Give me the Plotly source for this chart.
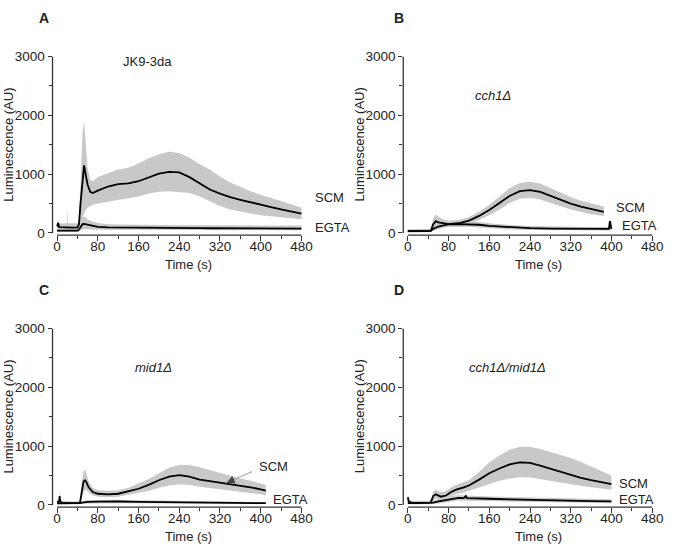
import plotly.graph_objects as go

W, H = 676, 551

# ---------------- data ----------------
# Panel A: JK9-3da
A_t = [0, 2, 4, 10, 19, 20, 21, 30, 40, 43, 46, 50, 53, 56, 60, 65, 70, 80, 100, 120,
       140, 160, 180, 200, 220, 240, 260, 280, 300, 320, 340, 360, 380, 400, 420, 440, 460, 480]
A_scm = [110, 170, 100, 95, 90, 95, 90, 90, 95, 150, 500, 900, 1150, 1000, 820, 700, 680, 720, 790, 830,
         845, 880, 950, 1010, 1040, 1030, 950, 850, 740, 670, 610, 565, 520, 480, 440, 400, 365, 330]
A_scm_hi = [180, 220, 170, 160, 165, 430, 165, 160, 165, 220, 900, 1700, 1900, 1500, 1100, 900, 880, 950, 1020, 1080,
            1110, 1180, 1270, 1340, 1380, 1360, 1280, 1170, 1080, 960, 860, 780, 710, 650, 600, 550, 490, 430]
A_scm_lo = [40, 50, 40, 40, 40, 40, 40, 40, 45, 60, 150, 250, 330, 390, 430, 460, 480, 500, 530, 560,
            580, 620, 670, 700, 710, 700, 680, 620, 540, 460, 400, 360, 330, 300, 280, 265, 250, 235]
A_egta = [40, 40, 40, 40, 40, 40, 40, 40, 40, 60, 110, 150, 155, 150, 135, 125, 115, 105, 95, 92,
          90, 88, 86, 85, 84, 83, 82, 81, 80, 80, 79, 79, 78, 78, 77, 76, 75, 75]
A_egta_hi = [90, 90, 90, 90, 90, 90, 90, 90, 90, 120, 220, 280, 280, 270, 230, 210, 190, 170, 150, 145,
             140, 138, 136, 135, 134, 133, 132, 131, 130, 129, 128, 128, 127, 127, 126, 126, 125, 125]
A_egta_lo = [15, 15, 15, 15, 15, 15, 15, 15, 15, 20, 40, 60, 62, 62, 60, 58, 57, 55, 55, 54,
             53, 52, 51, 50, 50, 49, 48, 48, 47, 47, 46, 46, 46, 45, 45, 45, 45, 45]

# Panel B: cch1Δ
B_t_scm = [0, 20, 40, 45, 50, 55, 60, 70, 80, 100, 120, 140, 160, 180, 200, 220, 240, 260, 280, 300, 320, 340, 360, 385]
B_scm = [30, 30, 30, 35, 150, 200, 180, 160, 150, 165, 210, 290, 390, 510, 630, 710, 730, 700, 630, 560, 500, 450, 405, 360]
B_scm_hi = [60, 60, 60, 70, 250, 310, 280, 230, 210, 220, 270, 360, 480, 620, 760, 850, 870, 840, 760, 680, 610, 550, 500, 450]
B_scm_lo = [10, 10, 10, 15, 90, 120, 110, 100, 100, 110, 150, 220, 300, 400, 510, 580, 600, 570, 510, 450, 400, 360, 320, 290]
B_t_egta = [0, 20, 40, 45, 50, 60, 70, 80, 100, 120, 140, 160, 200, 240, 280, 320, 360, 395, 397, 399, 400]
B_egta = [30, 30, 30, 35, 70, 110, 130, 145, 150, 150, 140, 120, 95, 82, 75, 72, 70, 70, 200, 70, 70]
B_egta_hi = [60, 60, 60, 65, 110, 160, 180, 190, 195, 195, 185, 165, 135, 120, 110, 105, 102, 100, 200, 100, 100]
B_egta_lo = [10, 10, 10, 15, 40, 70, 90, 100, 105, 105, 95, 80, 60, 50, 45, 42, 40, 40, 40, 40, 40]

# Panel C: mid1Δ
C_t_scm = [0, 4, 5, 6, 10, 20, 30, 40, 45, 48, 52, 55, 58, 62, 70, 80, 100, 120, 140, 160,
           180, 200, 220, 240, 260, 280, 300, 320, 340, 360, 380, 400, 410]
C_scm = [40, 60, 150, 60, 35, 30, 30, 30, 40, 200, 400, 420, 380, 300, 220, 190, 180, 190, 230, 275,
         340, 420, 480, 505, 480, 430, 405, 380, 355, 330, 300, 265, 245]
C_scm_hi = [80, 100, 230, 100, 70, 60, 60, 60, 80, 350, 580, 600, 520, 400, 290, 250, 240, 250, 290, 360,
            440, 540, 630, 680, 680, 640, 590, 540, 490, 450, 410, 370, 340]
C_scm_lo = [10, 20, 60, 20, 10, 10, 10, 10, 15, 100, 230, 260, 250, 210, 160, 140, 130, 140, 170, 200,
            240, 290, 330, 350, 340, 310, 290, 270, 250, 220, 200, 180, 160]
C_t_egta = [0, 40, 45, 50, 60, 80, 100, 120, 160, 200, 240, 280, 320, 360, 410]
C_egta = [25, 25, 30, 40, 50, 55, 60, 58, 52, 48, 42, 38, 35, 32, 30]
C_egta_hi = [45, 45, 50, 65, 80, 85, 90, 88, 80, 72, 65, 60, 56, 52, 50]
C_egta_lo = [10, 10, 12, 20, 25, 30, 32, 30, 28, 25, 22, 20, 18, 16, 15]

# Panel D: cch1Δ/mid1Δ
D_t_scm = [0, 2, 10, 40, 45, 50, 55, 65, 75, 85, 95, 110, 120, 140, 160, 180, 200, 220, 240, 260,
           280, 300, 320, 340, 360, 380, 400]
D_scm = [130, 50, 30, 30, 40, 150, 180, 140, 160, 220, 260, 300, 330, 430, 540, 620, 690, 725, 715, 670,
         615, 560, 505, 460, 420, 385, 355]
D_scm_hi = [180, 90, 70, 70, 90, 230, 260, 220, 230, 300, 340, 380, 420, 560, 720, 840, 940, 990, 990, 950,
            900, 860, 800, 730, 650, 570, 500]
D_scm_lo = [60, 15, 10, 10, 15, 80, 110, 90, 100, 150, 180, 210, 240, 300, 360, 410, 450, 470, 465, 440,
            410, 380, 350, 320, 300, 280, 260]
D_t_egta = [0, 10, 40, 45, 50, 60, 80, 90, 100, 110, 114, 116, 120, 140, 160, 200, 240, 280, 320, 360, 400]
D_egta = [30, 30, 30, 30, 40, 60, 90, 115, 120, 115, 150, 115, 115, 110, 105, 95, 85, 75, 70, 65, 60]
D_egta_hi = [60, 60, 60, 60, 80, 100, 130, 160, 165, 160, 165, 160, 160, 150, 145, 135, 125, 115, 108, 100, 95]
D_egta_lo = [10, 10, 10, 10, 15, 25, 50, 70, 75, 72, 72, 72, 72, 70, 65, 58, 50, 45, 40, 35, 30]

x_ticks = [0, 80, 160, 240, 320, 400, 480]
y_ticks = [0, 1000, 2000, 3000]
panel_letters = ["A", "B", "C", "D"]
strain_labels = ["JK9-3da", "<i>cch1Δ</i>", "<i>mid1Δ</i>", "<i>cch1Δ/mid1Δ</i>"]

# ---------------- styling ----------------
FONT = "Liberation Sans, Arial, Helvetica, sans-serif"
BAND = "#c8c8c8"
AXC = "#333333"

panels = [
    dict(ts=A_t, s=A_scm, sh=A_scm_hi, sl=A_scm_lo, te=A_t, e=A_egta, eh=A_egta_hi, el=A_egta_lo),
    dict(ts=B_t_scm, s=B_scm, sh=B_scm_hi, sl=B_scm_lo, te=B_t_egta, e=B_egta, eh=B_egta_hi, el=B_egta_lo),
    dict(ts=C_t_scm, s=C_scm, sh=C_scm_hi, sl=C_scm_lo, te=C_t_egta, e=C_egta, eh=C_egta_hi, el=C_egta_lo),
    dict(ts=D_t_scm, s=D_scm, sh=D_scm_hi, sl=D_scm_lo, te=D_t_egta, e=D_egta, eh=D_egta_hi, el=D_egta_lo),
]

# pixel layout of each panel: left edge (y-axis line), top (value 3000)
left_px = [53.3, 409.3, 53.3, 409.3]
top_px = [50.7, 50.7, 328.7, 328.7]
PXS = 0.5167   # px per second
PXV = 0.0601   # px per AU
XR = [-9, 482]
YR = [-38, 3000]


def px(x, y):
    return x / W, 1 - y / H


fig = go.Figure()
layout = dict(width=W, height=H, margin=dict(l=0, r=0, t=0, b=0),
              paper_bgcolor="white", plot_bgcolor="white", showlegend=False,
              font=dict(family=FONT, color="#222", size=13))
shapes = []
annotations = []

for i, p in enumerate(panels):
    s = "" if i == 0 else str(i + 1)
    xa, ya = "x" + s, "y" + s
    # bands
    fig.add_trace(go.Scatter(x=p["ts"], y=p["sl"], xaxis=xa, yaxis=ya, mode="lines",
                             line=dict(width=0, color=BAND), hoverinfo="skip"))
    fig.add_trace(go.Scatter(x=p["ts"], y=p["sh"], xaxis=xa, yaxis=ya, mode="lines", fill="tonexty",
                             fillcolor=BAND, line=dict(width=0, color=BAND), hoverinfo="skip"))
    fig.add_trace(go.Scatter(x=p["te"], y=p["el"], xaxis=xa, yaxis=ya, mode="lines",
                             line=dict(width=0, color=BAND), hoverinfo="skip"))
    fig.add_trace(go.Scatter(x=p["te"], y=p["eh"], xaxis=xa, yaxis=ya, mode="lines", fill="tonexty",
                             fillcolor=BAND, line=dict(width=0, color=BAND), hoverinfo="skip"))
    # means
    fig.add_trace(go.Scatter(x=p["te"], y=p["e"], xaxis=xa, yaxis=ya, mode="lines",
                             line=dict(width=1.8, color="black"), name="EGTA"))
    fig.add_trace(go.Scatter(x=p["ts"], y=p["s"], xaxis=xa, yaxis=ya, mode="lines",
                             line=dict(width=1.8, color="black"), name="SCM"))

    L = left_px[i]
    R = L + (XR[1] - XR[0]) * PXS
    T = top_px[i] - (YR[1] - 3000) * PXV
    B = top_px[i] + (3000 - YR[0]) * PXV
    layout["xaxis" + s] = dict(
        domain=[L / W, R / W], range=XR, anchor=ya, showgrid=False, zeroline=False, showline=False,
        tickmode="array", tickvals=x_ticks, ticks="outside", ticklen=5, tickwidth=1.2, tickcolor=AXC,
        ticklabelstandoff=-6,
        minor=dict(tickvals=[40, 120, 200, 280, 360, 440], ticks="outside", ticklen=3,
                   tickwidth=1.2, tickcolor=AXC),
        tickfont=dict(size=13.5, family=FONT, color="#222"), fixedrange=True)
    layout["yaxis" + s] = dict(
        domain=[1 - B / H, 1 - T / H], range=YR, anchor=xa, showgrid=False, zeroline=False, showline=False,
        tickmode="array", tickvals=y_ticks, ticks="outside", ticklen=4, tickwidth=1.2, tickcolor=AXC,
        minor=dict(tickvals=[500, 1500, 2500], ticks="outside", ticklen=3, tickwidth=1.2, tickcolor=AXC),
        tickfont=dict(size=13.5, family=FONT, color="#222"), fixedrange=True)
    # detached axis lines
    shapes.append(dict(type="line", xref=xa + " domain", yref=ya, x0=0, x1=0, y0=0, y1=3000,
                       line=dict(color=AXC, width=1.3)))
    shapes.append(dict(type="line", xref=xa, yref=ya + " domain", x0=0, x1=480, y0=0, y1=0,
                       line=dict(color=AXC, width=1.3)))

    dx = 0 if i % 2 == 0 else 356
    dy = 0 if i < 2 else 278
    # axis titles
    ax_, ay_ = px(9 + dx, top_px[i] + 1500 * PXV)
    annotations.append(dict(text="Luminescence (AU)", x=ax_, y=ay_, xref="paper", yref="paper",
                            textangle=-90, showarrow=False, font=dict(size=13, family=FONT, color="#222"),
                            xanchor="center", yanchor="middle"))
    tx, ty = px(191 + dx, 263.5 + dy)
    annotations.append(dict(text="Time (s)", x=tx, y=ty, xref="paper", yref="paper", showarrow=False,
                            font=dict(size=13, family=FONT, color="#222"), xanchor="center", yanchor="middle"))
    # panel letter
    lx, ly = px(38 + (0 if i % 2 == 0 else 360), 11 + dy)
    annotations.append(dict(text="<b>%s</b>" % panel_letters[i], x=lx, y=ly, xref="paper", yref="paper",
                            showarrow=False, font=dict(size=14, family=FONT, color="#222"),
                            xanchor="left", yanchor="middle"))

# strain labels
for (xx, yy), txt in zip([(123, 56), (480, 90), (135, 369), (474, 369)], strain_labels):
    a, b = px(xx, yy)
    annotations.append(dict(text=txt, x=a, y=b, xref="paper", yref="paper", showarrow=False,
                            font=dict(size=13, family=FONT, color="#222"), xanchor="left", yanchor="middle"))

# series labels
for xx, yy, txt in [(318, 195, "SCM"), (318, 225, "EGTA"), (623, 205, "SCM"), (629, 223, "EGTA"),
                    (261, 470, "SCM"), (275, 503, "EGTA"), (626, 487, "SCM"), (626, 503, "EGTA")]:
    a, b = px(xx, yy)
    annotations.append(dict(text=txt, x=a, y=b, xref="paper", yref="paper", showarrow=False,
                            font=dict(size=13, family=FONT, color="#222"), xanchor="left", yanchor="middle"))

# arrow in panel C pointing at the SCM curve
annotations.append(dict(x=333, y=375, xref="x3", yref="y3", ax=27, ay=-12, text="", showarrow=True,
                        arrowhead=0, arrowwidth=1, arrowcolor="#9a9a9a"))
annotations.append(dict(x=333, y=375, xref="x3", yref="y3", ax=9, ay=-4, text="", showarrow=True,
                        arrowhead=2, arrowsize=1.6, arrowwidth=1, arrowcolor="#444"))

layout["shapes"] = shapes
layout["annotations"] = annotations
fig.update_layout(**layout)
fig.write_html("out.html", config={"displayModeBar": False},
               post_script="document.body.style.margin='0';document.body.style.overflow='hidden';")
